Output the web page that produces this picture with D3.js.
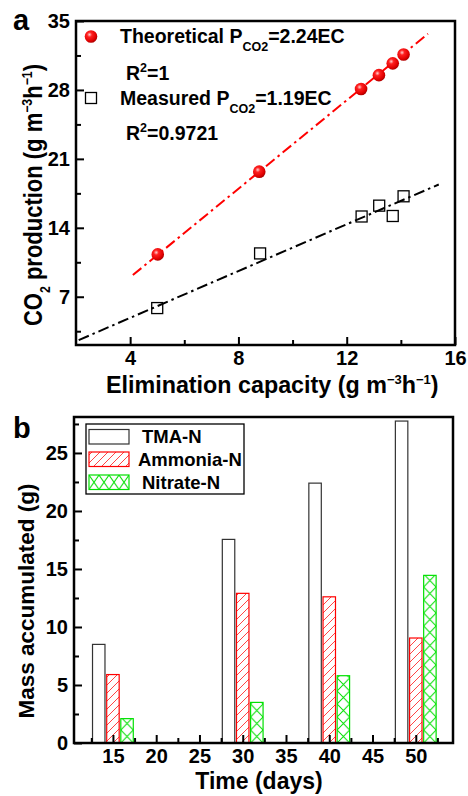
<!doctype html>
<html>
<head>
<style>
    body { margin: 0; background: #fff; }
    svg { font-family: "Liberation Sans", Arial, sans-serif; font-weight: bold; }
</style>
<script src="https://d3js.org/d3.v7.min.js"></script>
</head>
<body>
<svg width="468" height="796"></svg>
<script>

    // panel a : CO2 production vs elimination capacity
    var ecTheo = [5.02, 8.77, 12.53, 13.19, 13.7, 14.1];
    var co2Theo = [11.3, 19.7, 28.1, 29.5, 30.7, 31.6];
    var ecMeas = [5.0, 8.8, 12.55, 13.2, 13.7, 14.1];
    var co2Meas = [5.85, 11.4, 15.15, 16.25, 15.2, 17.2];
    var fitTheo = [[4.1, 9.2], [15.0, 33.7]];
    var fitMeas = [[2.1, 2.6], [15.4, 18.4]];
    var aXTicks = [4, 8, 12, 16];
    var aYTicks = [7, 14, 21, 28, 35];

    // panel b : mass accumulated
    var days = [15, 30, 40, 50];
    var tmaN = [8.5, 17.55, 22.4, 27.75];
    var ammoniaN = [5.9, 12.9, 12.6, 9.05];
    var nitrateN = [2.1, 3.5, 5.8, 14.45];
    var seriesNames = ["TMA-N", "Ammonia-N", "Nitrate-N"];
    var bXTicks = [15, 20, 25, 30, 35, 40, 45, 50];
    var bYTicks = [0, 5, 10, 15, 20, 25];

    var svg = d3.select("svg");
    var defs = svg.append("defs");

    var grad = defs.append("radialGradient").attr("id", "ball")
        .attr("cx", "38%").attr("cy", "35%").attr("r", "65%");
    grad.append("stop").attr("offset", "0%").attr("stop-color", "#ffd0d0");
    grad.append("stop").attr("offset", "30%").attr("stop-color", "#ff2020");
    grad.append("stop").attr("offset", "80%").attr("stop-color", "#e00000");
    grad.append("stop").attr("offset", "100%").attr("stop-color", "#b00000");

    var hatch = defs.append("pattern").attr("id", "hatch")
        .attr("patternUnits", "userSpaceOnUse").attr("width", 8).attr("height", 8);
    hatch.append("path").attr("d", "M-2,2 L2,-2 M0,8 L8,0 M6,10 L10,6")
        .attr("stroke", "#ff3030").attr("stroke-width", 0.9);

    // ---------- panel a ----------
    var xa = d3.scaleLinear().domain([2, 16]).range([76, 455]);
    var ya = d3.scaleLinear().domain([2.1, 35]).range([345, 21]);

    var ga = svg.append("g");

    ga.append("g").attr("transform", "translate(0,345)")
      .call(d3.axisBottom(xa).tickValues([6, 10, 14]).tickSize(-5).tickFormat(""));
    ga.append("g").attr("transform", "translate(0,345)")
      .call(d3.axisBottom(xa).tickValues(aXTicks).tickSize(-8).tickPadding(6));
    ga.append("g").attr("transform", "translate(76,0)")
      .call(d3.axisLeft(ya).tickValues([3.5, 10.5, 17.5, 24.5, 31.5]).tickSize(-5).tickFormat(""));
    ga.append("g").attr("transform", "translate(76,0)")
      .call(d3.axisLeft(ya).tickValues(aYTicks).tickSize(-8).tickPadding(6));

    ga.append("rect").attr("x", 76).attr("y", 21).attr("width", 379).attr("height", 324)
      .attr("fill", "none").attr("stroke", "#000").attr("stroke-width", 2.5);

    var line = d3.line().x(function(d) { return xa(d[0]); }).y(function(d) { return ya(d[1]); });

    ga.append("path").attr("d", line(fitTheo)).attr("fill", "none")
      .attr("stroke", "#ff0000").attr("stroke-width", 2).attr("stroke-dasharray", "11,4,2.5,4");
    ga.append("path").attr("d", line(fitMeas)).attr("fill", "none")
      .attr("stroke", "#000").attr("stroke-width", 2).attr("stroke-dasharray", "11,4,2.5,4");

    ga.selectAll(".sq").data(ecMeas).enter().append("rect").attr("class", "sq")
      .attr("x", function(d) { return xa(d) - 5.5; })
      .attr("y", function(d, i) { return ya(co2Meas[i]) - 5.5; })
      .attr("width", 11).attr("height", 11)
      .attr("fill", "none").attr("stroke", "#000").attr("stroke-width", 1.3);

    ga.selectAll(".ball").data(ecTheo).enter().append("circle").attr("class", "ball")
      .attr("cx", function(d) { return xa(d); })
      .attr("cy", function(d, i) { return ya(co2Theo[i]); })
      .attr("r", 6.3).attr("fill", "url(#ball)");

    // legend a
    ga.append("circle").attr("cx", 91).attr("cy", 36.5).attr("r", 6.3).attr("fill", "url(#ball)");
    ga.append("rect").attr("x", 85.5).attr("y", 92.5).attr("width", 11).attr("height", 11)
      .attr("fill", "none").attr("stroke", "#000").attr("stroke-width", 1.3);

    function formula(y, label, value) {
        var t = ga.append("text").attr("x", 120).attr("y", y).attr("font-size", 19.5);
        t.append("tspan").text(label + " P");
        t.append("tspan").attr("font-size", 12.5).attr("dy", 8).text("CO2");
        t.append("tspan").attr("dy", -8).text("=" + value);
    }
    function rsq(y, value) {
        var t = ga.append("text").attr("x", 126).attr("y", y).attr("font-size", 19.5);
        t.append("tspan").text("R");
        t.append("tspan").attr("font-size", 12.5).attr("dy", -8).text("2");
        t.append("tspan").attr("dy", 8).text("=" + value);
    }
    formula(43, "Theoretical", "2.24EC");
    rsq(80, "1");
    formula(104.5, "Measured", "1.19EC");
    rsq(140, "0.9721");

    var xl = ga.append("text").attr("x", 106).attr("y", 393).attr("font-size", 23.3);
    xl.append("tspan").text("Elimination capacity (g m");
    xl.append("tspan").attr("font-size", 13).attr("dy", -9).text("\u22123");
    xl.append("tspan").attr("dy", 9).text("h");
    xl.append("tspan").attr("font-size", 13).attr("dy", -9).text("\u22121");
    xl.append("tspan").attr("dy", 9).text(")");

    var yl = ga.append("text").attr("transform", "translate(42,195) rotate(-90) scale(0.88,1)")
      .attr("text-anchor", "middle").attr("font-size", 25);
    yl.append("tspan").text("CO");
    yl.append("tspan").attr("font-size", 14).attr("dy", 8).text("2");
    yl.append("tspan").attr("dy", -8).text(" production (g m");
    yl.append("tspan").attr("font-size", 14).attr("dy", -10).text("\u22123");
    yl.append("tspan").attr("dy", 10).text("h");
    yl.append("tspan").attr("font-size", 14).attr("dy", -10).text("\u22121");
    yl.append("tspan").attr("dy", 10).text(")");

    ga.append("text").attr("x", 13).attr("y", 30).attr("font-size", 29).text("a");

    // ---------- panel b ----------
    var xb = d3.scaleLinear().domain([10.5, 54.3]).range([74, 453]);
    var yb = d3.scaleLinear().domain([0, 28.1]).range([743, 417]);
    var gb = svg.append("g");

    var barW = 1.44, offs = [-1.64, 0, 1.63];
    var cols = ["#333", "#ff0000", "#00e000"];
    var vals = [tmaN, ammoniaN, nitrateN];

    vals.forEach(function(series, s) {
        gb.selectAll(".bar" + s).data(days).enter().append("rect").attr("class", "bar" + s)
          .attr("x", function(d) { return xb(d + offs[s] - barW / 2); })
          .attr("y", function(d, i) { return yb(series[i]); })
          .attr("width", xb(barW) - xb(0))
          .attr("height", function(d, i) { return yb(0) - yb(series[i]); })
          .attr("fill", s == 0 ? "#fff" : s == 1 ? "url(#hatch)" : function(d, i) { return "url(#cross" + i + ")"; })
          .attr("stroke", cols[s]).attr("stroke-width", 1.2);
    });

    // cross hatch patterns aligned to each nitrate bar
    days.forEach(function(d, i) {
        var x0 = xb(d + offs[2] - barW / 2), w = xb(barW) - xb(0);
        var p = defs.append("pattern").attr("id", "cross" + i)
          .attr("patternUnits", "userSpaceOnUse").attr("x", x0).attr("y", 743)
          .attr("width", w).attr("height", 13);
        p.append("path").attr("d", "M0,0 L" + w + ",13 M" + w + ",0 L0,13")
          .attr("stroke", "#00e000").attr("stroke-width", 1);
    });

    gb.append("g").attr("transform", "translate(0,743)")
      .call(d3.axisBottom(xb).tickValues([12.5, 17.5, 22.5, 27.5, 32.5, 37.5, 42.5, 47.5, 52.5]).tickSize(-5).tickFormat(""));
    gb.append("g").attr("transform", "translate(0,743)")
      .call(d3.axisBottom(xb).tickValues(bXTicks).tickSize(-8).tickPadding(6));
    gb.append("g").attr("transform", "translate(74,0)")
      .call(d3.axisLeft(yb).tickValues([2.5, 7.5, 12.5, 17.5, 22.5, 27.5]).tickSize(-5).tickFormat(""));
    gb.append("g").attr("transform", "translate(74,0)")
      .call(d3.axisLeft(yb).tickValues(bYTicks).tickSize(-8).tickPadding(6));

    gb.append("rect").attr("x", 74).attr("y", 417).attr("width", 379).attr("height", 326)
      .attr("fill", "none").attr("stroke", "#000").attr("stroke-width", 2.5);

    // legend b
    gb.append("rect").attr("x", 86).attr("y", 424).attr("width", 158).attr("height", 70)
      .attr("fill", "#fff").attr("stroke", "#000").attr("stroke-width", 1.3);
    var lgY = [429.5, 452, 475], lgTx = [142, 138, 142];
    var swFill = ["#fff", "url(#hatch)", "url(#crossLg)"];
    var pl = defs.append("pattern").attr("id", "crossLg").attr("patternUnits", "userSpaceOnUse")
      .attr("x", 89).attr("y", 475).attr("width", 10).attr("height", 14.5);
    pl.append("path").attr("d", "M0,0 L10,14.5 M10,0 L0,14.5").attr("stroke", "#00e000").attr("stroke-width", 1);
    seriesNames.forEach(function(n, s) {
        gb.append("rect").attr("x", 89).attr("y", lgY[s]).attr("width", 40).attr("height", 14.5)
          .attr("fill", swFill[s]).attr("stroke", cols[s]).attr("stroke-width", 1.2);
        gb.append("text").attr("x", lgTx[s]).attr("y", lgY[s] + 13.5).attr("font-size", 18.5).text(n);
    });

    gb.append("text").attr("transform", "translate(34,601) rotate(-90)")
      .attr("text-anchor", "middle").attr("font-size", 22.5).text("Mass accumulated (g)");
    gb.append("text").attr("x", 259).attr("y", 789).attr("text-anchor", "middle")
      .attr("font-size", 23).text("Time (days)");
    gb.append("text").attr("x", 13).attr("y", 438).attr("font-size", 29).text("b");

    // axis styling
    svg.selectAll(".domain").remove();
    svg.selectAll(".tick line").attr("stroke", "#000").attr("stroke-width", 2);
    svg.selectAll(".tick text").attr("font-size", 20).attr("font-family", "Liberation Sans, Arial, sans-serif")
      .attr("font-weight", "bold").attr("fill", "#000");

</script>
</body>
</html>
